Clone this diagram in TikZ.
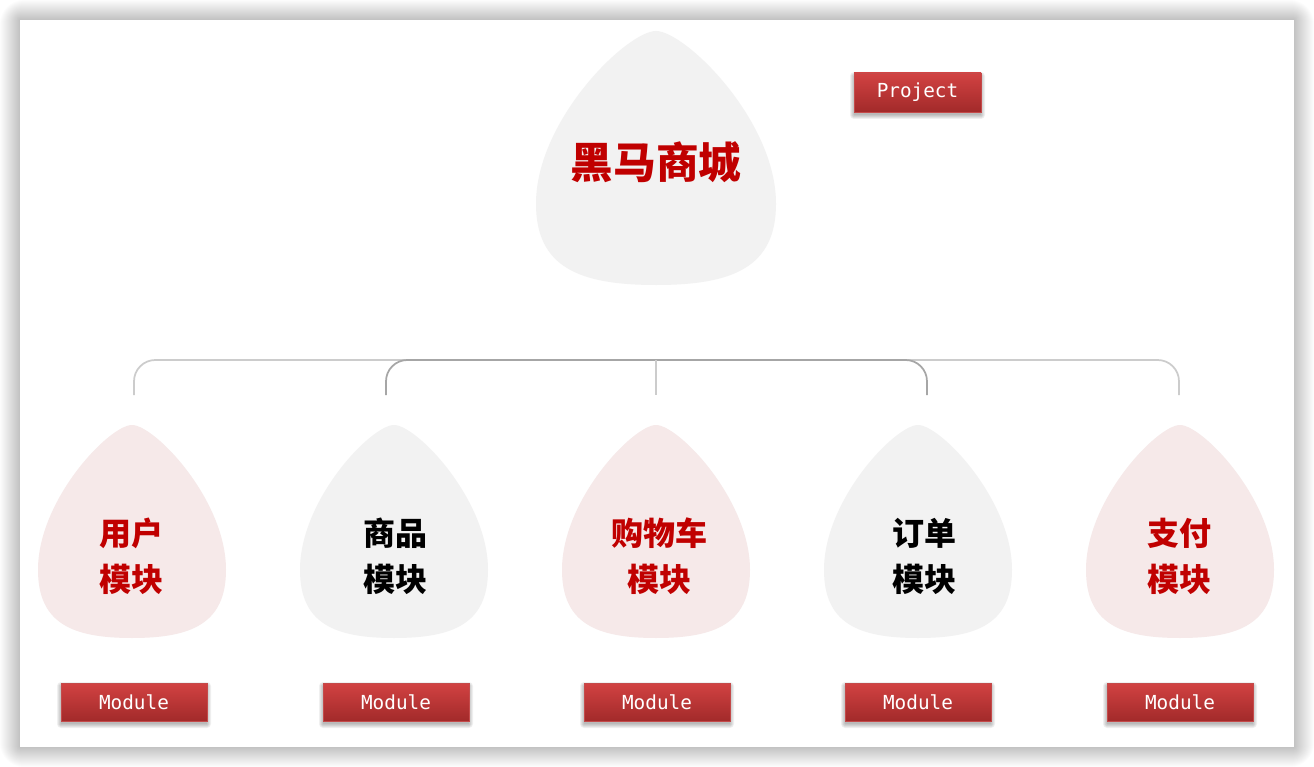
\documentclass[tikz,border=0pt]{standalone}
\usepackage{fontspec}
\newfontfamily\cjk{Noto Sans CJK SC}
\setmonofont{DejaVu Sans Mono}
\definecolor{redtxt}{HTML}{C00000}
\definecolor{eggpink}{HTML}{F6E9E9}
\definecolor{egggray}{HTML}{F2F2F2}
\definecolor{btntop}{HTML}{D24242}
\definecolor{btnbot}{HTML}{A22A2A}
\definecolor{btnedge}{HTML}{C44A4A}
\definecolor{connlight}{HTML}{CCCCCC}
\definecolor{conndark}{HTML}{A6A6A6}
\newcommand\eggshape[5]{%
  \begin{scope}[shift={(#1,#2)}, xscale=#3, yscale=#4]
    \fill[#5] (0,0) .. controls (0.12,0) and (0.5,0.35) .. (0.5,0.68)
      .. controls (0.5,0.93) and (0.32,1) .. (0,1)
      .. controls (-0.32,1) and (-0.5,0.93) .. (-0.5,0.68)
      .. controls (-0.5,0.35) and (-0.12,0) .. cycle;
  \end{scope}}
% name, cx, cy, w(px), h(px), text
\newcommand\button[6]{%
  \foreach \k in {0,...,4}{%
    \fill[black, opacity=0.06, rounded corners=\k*0.75pt]
      (#2-#4/2-\k, #3+#5/2+3+\k) rectangle (#2+#4/2+\k, #3-#5/2+3-\k);}
  \node[btn, minimum width=#4*0.75pt, minimum height=#5*0.75pt] (#1) at (#2,#3) {#6};}
\tikzset{
  btn/.style={top color=btntop, bottom color=btnbot, draw=btnedge, line width=0.4pt,
    text=white, font=\ttfamily\fontsize{14.5}{17}\selectfont, inner sep=0pt},
  bigtxt/.style={text=redtxt, font=\cjk\bfseries\fontsize{32}{38}\selectfont},
  modtxt/.style={align=center, font=\cjk\bfseries\fontsize{24}{34.5}\selectfont},
  connL/.style={draw=connlight, line width=1.3pt, rounded corners=16pt},
  connD/.style={draw=conndark, line width=1.3pt, rounded corners=16pt},
}
\begin{document}
\begin{tikzpicture}[x=0.75pt,y=-0.75pt]
\useasboundingbox (0,0) rectangle (1314,767);
\fill[white] (0,0) rectangle (1314,767);
% card shadow
\foreach \k in {1,...,20}{%
  \fill[black, opacity=0.011, rounded corners=\k*0.9pt] (20-\k,20-\k) rectangle (1294+\k,747+\k);}
\fill[white] (20,20) rectangle (1294,747);
% eggs
\eggshape{656}{31}{240}{254}{egggray}
\eggshape{132}{425}{188}{213}{eggpink}
\eggshape{394}{425}{188}{213}{egggray}
\eggshape{656}{425}{188}{213}{eggpink}
\eggshape{918}{425}{188}{213}{egggray}
\eggshape{1180}{425}{188}{213}{eggpink}
% texts
\node[bigtxt] (title) at (656,162) {黑马商城};
\node[modtxt, text=redtxt] (m1) at (131,556) {用户\\模块};
\node[modtxt, text=black] (m2) at (395,556) {商品\\模块};
\node[modtxt, text=redtxt] (m3) at (659,556) {购物车\\模块};
\node[modtxt, text=black] (m4) at (924,556) {订单\\模块};
\node[modtxt, text=redtxt] (m5) at (1179,556) {支付\\模块};
% connectors
\coordinate (hub) at (656,360);
\coordinate (t1) at (134,395);
\coordinate (t2) at (386,395);
\coordinate (t3) at (656,395);
\coordinate (t4) at (927,395);
\coordinate (t5) at (1179,395);
\draw[connL] (t1) |- (hub) -| (t5);
\draw[connD] (t2) |- (hub) -| (t4);
\draw[connL] (hub) -- (t3);
% buttons
\button{proj}{917.5}{92.5}{127}{39}{Project}
\button{b1}{134}{702}{146}{38}{Module}
\button{b2}{396}{702}{146}{38}{Module}
\button{b3}{657}{702}{146}{38}{Module}
\button{b4}{918}{702}{146}{38}{Module}
\button{b5}{1180}{702}{146}{38}{Module}
\end{tikzpicture}
\end{document}
